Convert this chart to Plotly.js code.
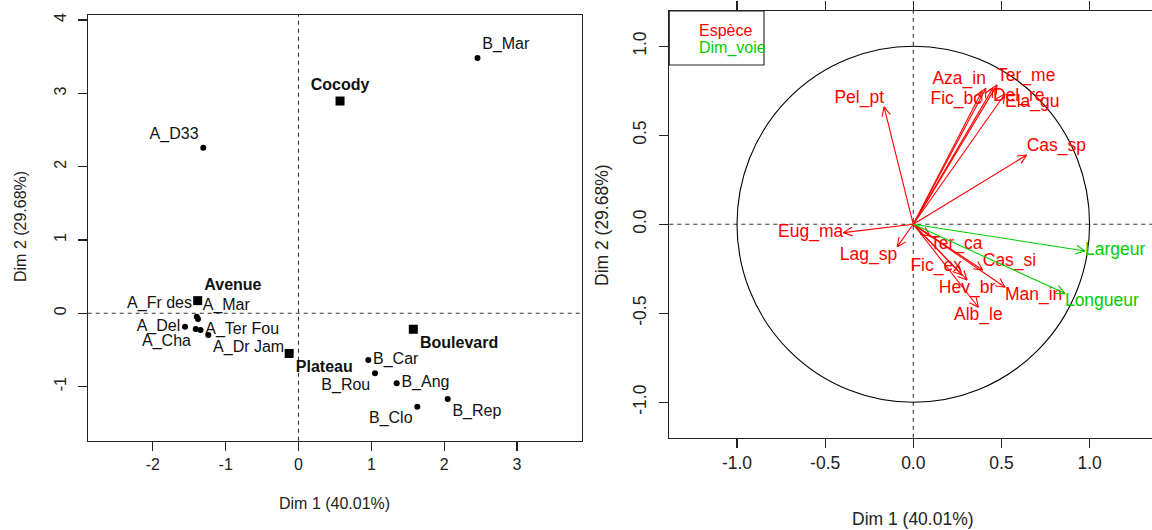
<!DOCTYPE html>
<html><head><meta charset="utf-8">
<script src="https://cdn.plot.ly/plotly-3.0.1.min.js"></script>
<style>body{margin:0;background:#fff;}</style>
</head><body>
<div id="chart" style="width:1152px;height:530px;"></div>
<script>
// ---- Individuals (left plot) ----
const indNames = ['B_Mar','A_D33','A_Fr des','A_Mar','A_Del','A_Cha','A_Ter Fou','A_Dr Jam','B_Car','B_Rou','B_Ang','B_Clo','B_Rep'];
const indX = [2.457,-1.307,-1.397,-1.380,-1.558,-1.411,-1.345,-1.238,0.958,1.050,1.348,1.631,2.048];
const indY = [3.480,2.258,-0.046,-0.078,-0.183,-0.214,-0.228,-0.296,-0.637,-0.818,-0.955,-1.274,-1.169];
const indTextPos = ['top right','top left','top left','top right','middle left','bottom left','middle right','bottom right','middle right','bottom left','middle right','bottom left','bottom right'];

// ---- Category centres (left plot, squares) ----
const catNames = ['Cocody','Avenue','Boulevard','Plateau'];
const catX = [0.570,-1.384,1.576,-0.128];
const catY = [2.895,0.172,-0.218,-0.548];
const catTextPos = ['top center','top right','bottom right','bottom right'];

// ---- Variables (right plot, correlation circle) ----
const varNames = ['Aza_in','Ter_me','Fic_bc','Del_re','Ela_gu','Cas_sp','Pel_pt','Eug_ma','Lag_sp','Ter_ca','Cas_si','Fic_ex','Hev_br','Man_in','Alb_le','Largeur','Longueur'];
const varX = [0.412,0.475,0.390,0.452,0.520,0.643,-0.166,-0.397,-0.091,0.095,0.394,0.276,0.305,0.520,0.369,0.974,0.860];
const varY = [0.764,0.783,0.749,0.766,0.732,0.389,0.659,-0.047,-0.126,-0.066,-0.257,-0.285,-0.313,-0.354,-0.466,-0.150,-0.388];
const varGroup = ['Espèce','Espèce','Espèce','Espèce','Espèce','Espèce','Espèce','Espèce','Espèce','Espèce','Espèce','Espèce','Espèce','Espèce','Espèce','Dim_voie','Dim_voie'];
const varTextPos = ['top left','top right','bottom left','bottom right','bottom right','top right','top left','middle left','bottom left','bottom right','top right','top left','bottom center','bottom right','bottom center','middle right','bottom right'];

const groupNames = ['Espèce','Dim_voie'];
const groupColors = {'Espèce':'#FF0000','Dim_voie':'#00CD00'};

const W = 1152, H = 530;
const FONT = 'Liberation Sans, Arial, Helvetica, sans-serif';
const INK = '#222222';

// layout geometry
const x1Dom = [87.7/W, 581.5/W];
const y1Dom = [1-440.7/H, 1-15/H];
const x1Rng = [-2.894, 3.885];
const y1Rng = [-1.738, 4.068];
const x2Dom = [669.3/W, 1.0];
const y2Dom = [1-437.7/H, 1-11/H];
const x2Rng = [-1.384, 1.354];
const y2Rng = [-1.199, 1.198];

const pxX2 = (x2Dom[1]-x2Dom[0])*W/(x2Rng[1]-x2Rng[0]);
const pxY2 = (y2Dom[1]-y2Dom[0])*H/(y2Rng[1]-y2Rng[0]);

const traces = [];

// individuals
traces.push({
  type:'scatter', mode:'markers+text', x:indX, y:indY, text:indNames,
  textposition:indTextPos, xaxis:'x', yaxis:'y',
  marker:{color:'#000', size:6, symbol:'circle'},
  textfont:{family:FONT, size:16, color:'#111'}, cliponaxis:false, hoverinfo:'text'
});
// category centres
traces.push({
  type:'scatter', mode:'markers+text', x:catX, y:catY, text:catNames.map(s=>'<b>'+s+'</b>'),
  textposition:catTextPos, xaxis:'x', yaxis:'y',
  marker:{color:'#000', size:9, symbol:'square'},
  textfont:{family:FONT, size:16, color:'#111'}, cliponaxis:false, hoverinfo:'text'
});

// arrows (built from variable coordinates)
const headLen = 10, headAng = Math.PI/7;
groupNames.forEach(g => {
  const xs = [], ys = [];
  varNames.forEach((n,i) => {
    if (varGroup[i] !== g) return;
    const x = varX[i], y = varY[i];
    xs.push(0, x, null); ys.push(0, y, null);
    const a = Math.atan2(y*pxY2, x*pxX2);
    const b1 = a+headAng, b2 = a-headAng;
    xs.push(x - headLen*Math.cos(b1)/pxX2, x, x - headLen*Math.cos(b2)/pxX2, null);
    ys.push(y - headLen*Math.sin(b1)/pxY2, y, y - headLen*Math.sin(b2)/pxY2, null);
  });
  traces.push({type:'scatter', mode:'lines', x:xs, y:ys, xaxis:'x2', yaxis:'y2',
    line:{color:groupColors[g], width:1.1}, hoverinfo:'skip', connectgaps:false});
  const idx = varNames.map((n,i)=>i).filter(i=>varGroup[i]===g);
  traces.push({type:'scatter', mode:'text', x:idx.map(i=>varX[i]), y:idx.map(i=>varY[i]),
    text:idx.map(i=>varNames[i]), textposition:idx.map(i=>varTextPos[i]),
    xaxis:'x2', yaxis:'y2', textfont:{family:FONT, size:17.5, color:groupColors[g]},
    cliponaxis:false, hoverinfo:'text'});
});

const dashLine = {color:'#333', width:1.1, dash:'4px,4px'};
const shapes = [
  {type:'line', xref:'x', yref:'y domain', x0:0, x1:0, y0:0, y1:1, line:dashLine, layer:'below'},
  {type:'line', xref:'x domain', yref:'y', x0:0, x1:1, y0:0, y1:0, line:dashLine, layer:'below'},
  {type:'line', xref:'x2', yref:'y2 domain', x0:0, x1:0, y0:0, y1:1, line:dashLine, layer:'below'},
  {type:'line', xref:'x2 domain', yref:'y2', x0:0, x1:1, y0:0, y1:0, line:dashLine, layer:'below'},
  {type:'circle', xref:'x2', yref:'y2', x0:-1, x1:1, y0:-1, y1:1, line:{color:'#000', width:1.1}, layer:'below'},
  // legend box
  {type:'rect', xref:'paper', yref:'paper', x0:669.3/W, x1:764/W, y0:1-65/H, y1:1-11/H, line:{color:'#222', width:1.1}, fillcolor:'#fff'}
];

const annotations = [
  {text:'Dim 1 (40.01%)', xref:'paper', yref:'paper', x:334/W, y:1-503/H, showarrow:false, font:{family:FONT,size:16,color:INK}, xanchor:'center', yanchor:'middle'},
  {text:'Dim 2 (29.68%)', xref:'paper', yref:'paper', x:20/W, y:1-227/H, showarrow:false, textangle:-90, font:{family:FONT,size:16,color:INK}, xanchor:'center', yanchor:'middle'},
  {text:'Dim 1 (40.01%)', xref:'paper', yref:'paper', x:913/W, y:1-519/H, showarrow:false, font:{family:FONT,size:17.5,color:INK}, xanchor:'center', yanchor:'middle'},
  {text:'Dim 2 (29.68%)', xref:'paper', yref:'paper', x:602/W, y:1-225/H, showarrow:false, textangle:-90, font:{family:FONT,size:17.5,color:INK}, xanchor:'center', yanchor:'middle'}
];
groupNames.forEach((g,k) => {
  annotations.push({text:g, xref:'paper', yref:'paper', x:697/W, y:1-(31+17*k)/H, showarrow:false,
    xanchor:'left', yanchor:'middle', font:{family:FONT, size:16, color:groupColors[g]}});
});

const axCommon = {showgrid:false, zeroline:false, showline:true, linecolor:INK, linewidth:1.1,
  ticks:'outside', ticklen:9, tickcolor:INK, tickwidth:1.1, fixedrange:true};

const layout = {
  width:W, height:H, margin:{l:0,r:0,t:0,b:0}, paper_bgcolor:'#fff', plot_bgcolor:'rgba(0,0,0,0)',
  showlegend:false, font:{family:FONT, color:INK},
  xaxis:Object.assign({}, axCommon, {domain:x1Dom, range:x1Rng, mirror:true, anchor:'y',
    tickvals:[-2,-1,0,1,2,3], ticktext:['-2','-1','0','1','2','3'], tickfont:{size:16,family:FONT,color:INK}}),
  yaxis:Object.assign({}, axCommon, {domain:y1Dom, range:y1Rng, mirror:true, anchor:'x', ticklabelstandoff:5,
    tickvals:[-1,0,1,2,3,4], ticktext:['-1','0','1','2','3','4'], tickangle:-90, tickfont:{size:16,family:FONT,color:INK}}),
  xaxis2:Object.assign({}, axCommon, {domain:x2Dom, range:x2Rng, mirror:'all', anchor:'y2',
    tickvals:[-1,-0.5,0,0.5,1], ticktext:['-1.0','-0.5','0.0','0.5','1.0'], tickfont:{size:17.5,family:FONT,color:INK}}),
  yaxis2:Object.assign({}, axCommon, {domain:y2Dom, range:y2Rng, mirror:false, anchor:'x2', ticklabelstandoff:6,
    tickvals:[-1,-0.5,0,0.5,1], ticktext:['-1.0','-0.5','0.0','0.5','1.0'], tickangle:-90, tickfont:{size:17.5,family:FONT,color:INK}}),
  shapes:shapes, annotations:annotations
};

Plotly.newPlot('chart', traces, layout, {staticPlot:true, displayModeBar:false});
</script>
</body></html>
